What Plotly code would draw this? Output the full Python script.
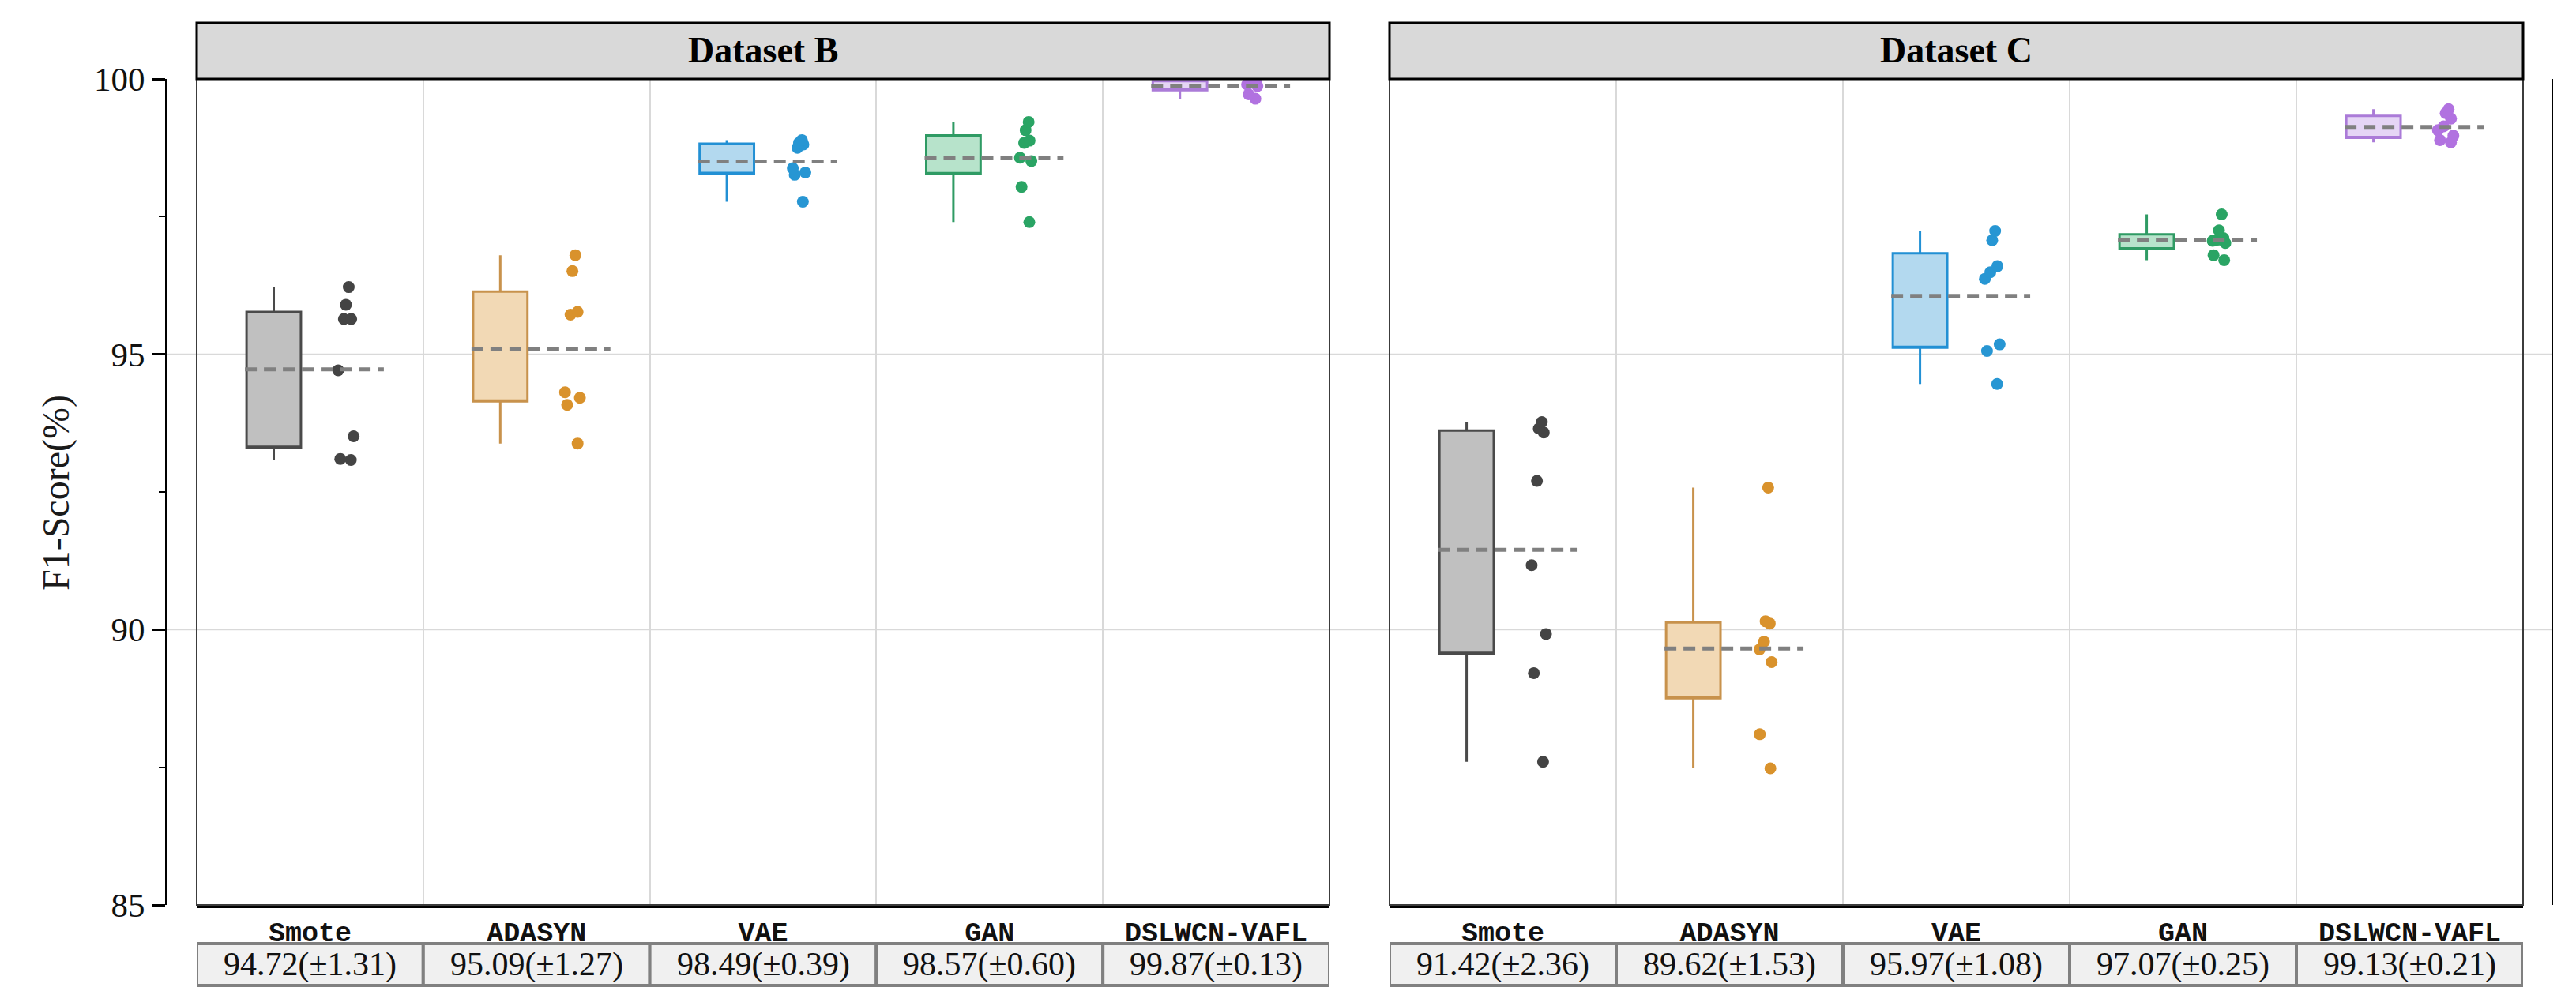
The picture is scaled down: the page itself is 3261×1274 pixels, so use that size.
import numpy as np
import plotly.graph_objects as go

W, H = 3261, 1274
PAGE_OFF = 8  # body margin of the html page

methods = ['Smote', 'ADASYN', 'VAE', 'GAN', 'DSLWCN-VAFL']
datasets = ['Dataset B', 'Dataset C']

# per-fold F1 scores
b_smote = [96.22, 95.90, 95.64, 95.64, 94.71, 93.51, 93.10, 93.08]
b_adasyn = [96.80, 96.51, 95.77, 95.72, 94.31, 94.21, 94.08, 93.38]
b_vae = [98.89, 98.84, 98.81, 98.75, 98.38, 98.30, 98.26, 97.77]
b_gan = [99.22, 99.07, 98.88, 98.84, 98.57, 98.51, 98.04, 97.40]
b_dslwcn = [99.98, 99.97, 99.95, 99.93, 99.90, 99.87, 99.72, 99.64]

c_smote = [93.77, 93.65, 93.58, 92.70, 91.17, 89.92, 89.21, 87.60]
c_adasyn = [92.58, 90.15, 90.11, 89.78, 89.64, 89.41, 88.10, 87.48]
c_vae = [97.24, 97.07, 96.60, 96.49, 96.37, 95.18, 95.06, 94.46]
c_gan = [97.54, 97.25, 97.11, 97.08, 97.06, 97.02, 96.80, 96.71]
c_dslwcn = [99.45, 99.38, 99.28, 99.14, 99.07, 98.97, 98.89, 98.85]

# table under the axes
b_mean = [94.72, 95.09, 98.49, 98.57, 99.87]
b_std = [1.31, 1.27, 0.39, 0.60, 0.13]
c_mean = [91.42, 89.62, 95.97, 97.07, 99.13]
c_std = [2.36, 1.53, 1.08, 0.25, 0.21]

y_ticks = [85, 90, 95, 100]
y_minor = [87.5, 92.5, 97.5]

fills = ['#c0c0c0', '#f2d9b5', '#b3d9ef', '#b7e3cb', '#e5d5f5']
edges = ['#4a4a4a', '#c8924c', '#2290d4', '#2f9b64', '#ab7bd8']
dots = ['#444444', '#d9922c', '#2796d3', '#2aa464', '#b172e0']


def px_x(v):
    return (v - PAGE_OFF) / W


def px_y(v):
    return 1 - (v - PAGE_OFF) / H


panels = [
    dict(name=datasets[0], groups=[b_smote, b_adasyn, b_vae, b_gan, b_dslwcn],
         mean=b_mean, std=b_std, xa='x', ya='y', x0=249, x1=1683),
    dict(name=datasets[1], groups=[c_smote, c_adasyn, c_vae, c_gan, c_dslwcn],
         mean=c_mean, std=c_std, xa='x2', ya='y2', x0=1759, x1=3194),
]

fig = go.Figure()
shapes = []
annotations = []

for p in panels:
    for i, vals in enumerate(p['groups']):
        s = np.sort(vals)
        h = len(s) // 2
        q1 = float(np.median(s[:h]))
        q3 = float(np.median(s[len(s) - h:]))
        # box with whiskers to min/max; median sits on the lower edge (not shown)
        fig.add_trace(go.Box(
            x=[i - 0.16], q1=[q1], median=[q1], q3=[q3],
            lowerfence=[float(s[0])], upperfence=[float(s[-1])],
            width=0.24, whiskerwidth=0,
            fillcolor=fills[i], line=dict(color=edges[i], width=3),
            xaxis=p['xa'], yaxis=p['ya'], showlegend=False, hoverinfo='skip'))
        m = float(np.mean(vals))
        fig.add_trace(go.Scatter(
            x=[i - 0.287, i + 0.326], y=[m, m], mode='lines',
            line=dict(color='#808080', width=5, dash='15px,9px'),
            xaxis=p['xa'], yaxis=p['ya'], showlegend=False, hoverinfo='skip'))
        # invisible box just to get jittered sample points
        fig.add_trace(go.Box(
            x=[i + 0.16] * len(vals), y=vals, boxpoints='all', jitter=0.35,
            pointpos=0, width=0.24, fillcolor='rgba(0,0,0,0)',
            line=dict(width=0, color='rgba(0,0,0,0)'),
            marker=dict(size=15, color=dots[i]),
            xaxis=p['xa'], yaxis=p['ya'], showlegend=False))

        # table cell
        shapes.append(dict(type='rect', xref=p['xa'], yref='paper',
                           x0=i - 0.5, x1=i + 0.5, y0=px_y(1248), y1=px_y(1195),
                           fillcolor='#f0f0f0', line=dict(color='#808080', width=4),
                           layer='above'))
        annotations.append(dict(
            xref=p['xa'], yref='paper', x=i, y=px_y(1221),
            text='%.2f(±%.2f)' % (p['mean'][i], p['std'][i]), showarrow=False,
            font=dict(family='Liberation Serif', size=42, color='#111111'),
            xanchor='center', yanchor='middle'))

    # panel frame and strip header
    shapes.append(dict(type='rect', xref='paper', yref='paper',
                       x0=px_x(p['x0']), x1=px_x(p['x1']), y0=px_y(1146), y1=px_y(100),
                       line=dict(color='#3c3c3c', width=2), layer='above'))
    shapes.append(dict(type='rect', xref='paper', yref='paper',
                       x0=px_x(p['x0']), x1=px_x(p['x1']), y0=px_y(100), y1=px_y(29),
                       fillcolor='#d9d9d9', line=dict(color='black', width=3),
                       layer='above'))
    annotations.append(dict(
        xref='paper', yref='paper', x=px_x((p['x0'] + p['x1']) / 2), y=px_y(64),
        text='<b>%s</b>' % p['name'], showarrow=False,
        font=dict(family='Liberation Serif', size=46, color='black'),
        xanchor='center', yanchor='middle'))

# horizontal grid runs across both panels
for t in y_ticks[1:-1]:
    shapes.append(dict(type='line', xref='paper', yref='y', x0=px_x(210), x1=px_x(3231),
                       y0=t, y1=t, line=dict(color='#d9d9d9', width=2), layer='below'))

annotations.append(dict(
    xref='paper', yref='paper', x=px_x(71), y=px_y(624), text='F1-Score(%)',
    textangle=-90, showarrow=False,
    font=dict(family='Liberation Serif', size=48, color='#1a1a1a'),
    xanchor='center', yanchor='middle'))

xcommon = dict(
    range=[-0.5, 4.5], tickmode='array', tickvals=list(range(len(methods))),
    ticktext=methods, ticks='', showgrid=False, zeroline=False, automargin=False,
    showline=True, linecolor='black', linewidth=4,
    tickfont=dict(family='Liberation Mono', size=35, color='#111111', weight='bold'),
    minor=dict(tickmode='array', tickvals=[0.5, 1.5, 2.5, 3.5], showgrid=True,
               gridcolor='#d9d9d9', gridwidth=2, ticks=''),
)

fig.update_layout(
    width=W, height=H,
    margin=dict(l=0, r=0, t=0, b=0, autoexpand=False),
    paper_bgcolor='white', plot_bgcolor='rgba(0,0,0,0)',
    showlegend=False, boxmode='overlay',
    xaxis=dict(domain=[px_x(249), px_x(1683)], anchor='y', **xcommon),
    xaxis2=dict(domain=[px_x(1759), px_x(3194)], anchor='y2', **xcommon),
    yaxis=dict(domain=[px_y(1146), px_y(100)], range=[85, 100], anchor='free',
               position=px_x(210), tickmode='array', tickvals=y_ticks,
               ticks='outside', ticklen=17, tickwidth=3, tickcolor='black',
               showline=True, linecolor='black', linewidth=3,
               showgrid=False, zeroline=False, automargin=False,
               tickfont=dict(family='Liberation Serif', size=43, color='#111111'),
               minor=dict(tickmode='array', tickvals=y_minor, ticks='outside',
                          ticklen=8, tickwidth=2, tickcolor='black', showgrid=False)),
    yaxis2=dict(domain=[px_y(1146), px_y(100)], range=[85, 100], anchor='free',
                position=px_x(3231), side='right', showticklabels=False, ticks='',
                showline=True, linecolor='black', linewidth=2,
                showgrid=False, zeroline=False, automargin=False),
    shapes=shapes,
    annotations=annotations,
)

fig.write_html("out.html")
